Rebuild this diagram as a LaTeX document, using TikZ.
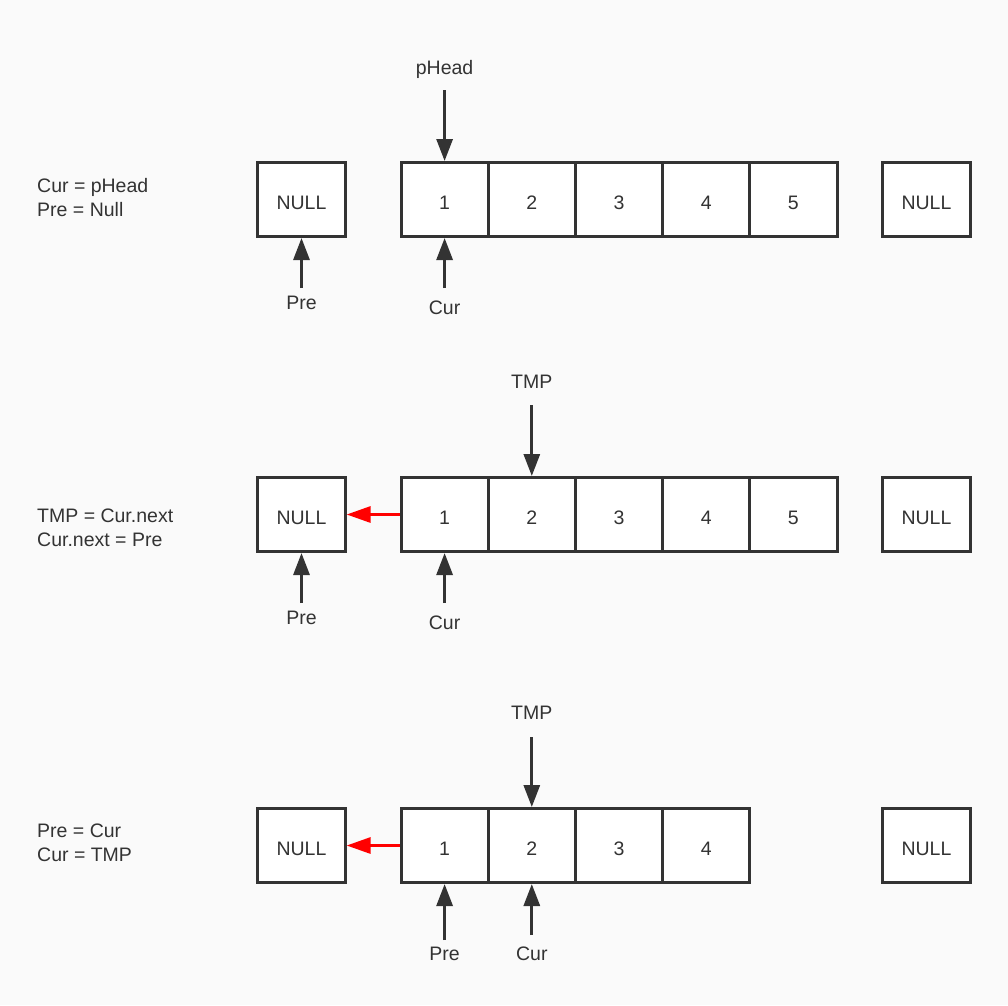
\documentclass[tikz,border=0pt]{standalone}
\usepackage{fontspec}
\setmainfont{Liberation Sans}
\usepackage{tikz}
\usetikzlibrary{arrows.meta}
\definecolor{backColor}{RGB}{250,250,250}
\definecolor{boxColor}{RGB}{51,51,51}
\tikzstyle{listPlane} = [x = 1pt, y = -1pt, font=\fontsize{19.5}{24}\selectfont]
\tikzstyle{listBox} = [draw=boxColor, fill=white, line width=3pt, minimum width=87.2pt, minimum height=74pt, inner sep=0pt, text=boxColor, text height=19pt, text depth=0pt]
\tikzstyle{labelText} = [text=boxColor, inner sep=0pt, text height=14pt, text depth=0pt]
\tikzstyle{noteText} = [text=boxColor, inner sep=0pt, anchor=west, align=left]
\tikzstyle{pointerLine} = [draw=boxColor, line width=3pt, -{Triangle[length=22pt, width=16pt]}]
\tikzstyle{nextLine} = [draw=red, line width=3pt, -{Triangle[length=24pt, width=16pt]}]
\newcommand{\boxStep}{87.2}
\newcommand{\listRow}[3]{
  \node [listBox] (#1NullL) at (301.5, #2) {NULL};
  \foreach \k in {1,...,#3} {
    \pgfmathsetmacro{\var}{357.4 + \boxStep * \k}
    \node [listBox] (#1Box\k) at (\var, #2) {\k};
  }
  \node [listBox] (#1NullR) at (926.5, #2) {NULL};
}
\newcommand{\pointerUp}[5]{
  \node [labelText] (#1) at (#5.south |- 0, #3) {#2};
  \coordinate (#1Tail) at (#5.south |- 0, #4);
  \draw [pointerLine] (#1Tail) -- (#5.south);
}
\newcommand{\pointerDown}[5]{
  \node [labelText] (#1) at (#5.north |- 0, #3) {#2};
  \coordinate (#1Tail) at (#5.north |- 0, #4);
  \draw [pointerLine] (#1Tail) -- (#5.north);
}
\begin{document}
\begin{tikzpicture}[listPlane]
  \fill [backColor] (0,0) rectangle (1008,1005);
  \useasboundingbox (0,0) rectangle (1008,1005);

  % first step
  \node [noteText] (noteOne) at (37, 198) {Cur = pHead\\Pre = Null};
  \listRow{one}{199.5}{5}
  \pointerDown{onePHead}{pHead}{67}{90}{oneBox1}
  \pointerUp{onePre}{Pre}{302}{288}{oneNullL}
  \pointerUp{oneCur}{Cur}{307}{288}{oneBox1}

  % second step
  \node [noteText] (noteTwo) at (37, 528) {TMP = Cur.next\\Cur.next = Pre};
  \listRow{two}{514.5}{5}
  \pointerDown{twoTmp}{TMP}{381}{405}{twoBox2}
  \pointerUp{twoPre}{Pre}{617}{603}{twoNullL}
  \pointerUp{twoCur}{Cur}{622}{603}{twoBox1}
  \draw [nextLine] (twoBox1.west) -- (twoNullL.east);

  % third step
  \node [noteText] (noteThree) at (37, 843) {Pre = Cur\\Cur = TMP};
  \listRow{three}{845.5}{4}
  \pointerDown{threeTmp}{TMP}{712}{737}{threeBox2}
  \pointerUp{threePre}{Pre}{953}{940}{threeBox1}
  \pointerUp{threeCur}{Cur}{953}{935}{threeBox2}
  \draw [nextLine] (threeBox1.west) -- (threeNullL.east);
\end{tikzpicture}
\end{document}
